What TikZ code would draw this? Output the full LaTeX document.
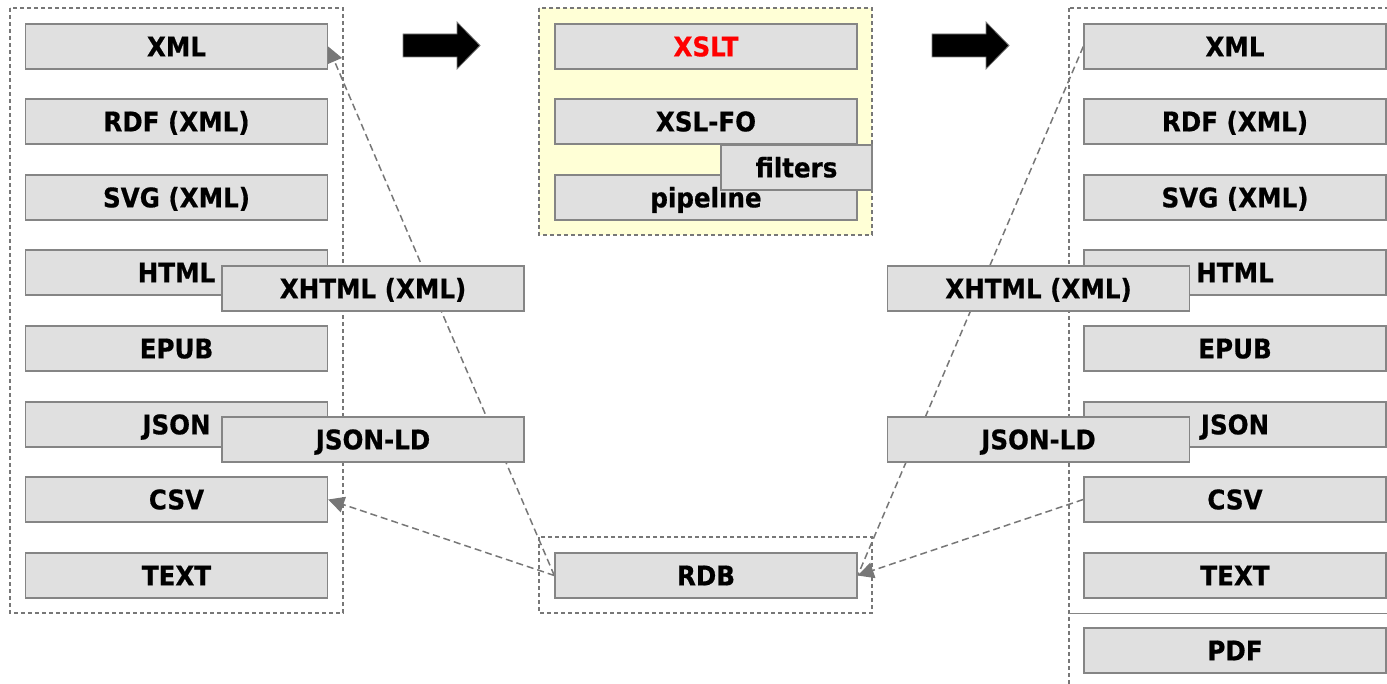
\documentclass[tikz,border=0pt]{standalone}
\usepackage{fontspec}
\newfontfamily\lblfont[FakeStretch=0.91, BoldFeatures={FakeBold=0.6}]{DejaVu Sans}
\usetikzlibrary{arrows.meta}
\definecolor{boxfill}{HTML}{E0E0E0}
\definecolor{boxline}{HTML}{858585}
\definecolor{connline}{HTML}{777777}
\definecolor{groupfill}{HTML}{FFFFD6}
\definecolor{xsltred}{HTML}{FF0000}
\pgfdeclarelayer{groups}
\pgfdeclarelayer{links}
\pgfsetlayers{groups,links,main}
\tikzset{
  fmt/.style={draw=boxline, line width=1.4pt, fill=boxfill, inner sep=0pt,
    minimum width=302pt, minimum height=45pt,
    text height=19.7pt, text depth=0pt,
    font=\lblfont\bfseries\fontsize{27}{30}\selectfont},
  smallfmt/.style={fmt, minimum width=151pt},
  group/.style={draw=connline, line width=1.1pt, dash pattern=on 4pt off 3pt},
  conn/.style={draw=connline, line width=1.5pt, dash pattern=on 7pt off 4pt},
  tip/.style={-{Triangle[length=16pt,width=16pt]}},
  bigarrow/.style={fill=black, draw=gray, line width=0.8pt}
}
\begin{document}
\begin{tikzpicture}[x=1pt,y=-1pt]
\useasboundingbox (0,0) rectangle (1387,684);
\clip (0,0) rectangle (1387,684);

% source formats
\node[fmt] (lxml)  at (176.5,46.5)  {XML};
\node[fmt] (lrdf)  at (176.5,121.5) {RDF (XML)};
\node[fmt] (lsvg)  at (176.5,197.5) {SVG (XML)};
\node[fmt] (lhtml) at (176.5,272.5) {HTML};
\node[fmt] (lepub) at (176.5,348.5) {EPUB};
\node[fmt] (ljson) at (176.5,424.5) {JSON};
\node[fmt] (lcsv)  at (176.5,499.5) {CSV};
\node[fmt] (ltext) at (176.5,575.5) {TEXT};
\node[fmt] (lxhtml) at (373,288.5) {XHTML (XML)};
\node[fmt] (ljsonld) at (373,439.5) {JSON-LD};

% transformation tools
\node[fmt, text=xsltred] (xslt) at (706,46.5) {XSLT};
\node[fmt] (xslfo) at (706,121.5) {XSL-FO};
\node[fmt] (pipe)  at (706,197.5) {pipeline};
\node[smallfmt] (filters) at (796.5,167.5) {filters};

% database
\node[fmt] (rdb) at (706,575.5) {RDB};

% target formats
\node[fmt] (rxml)  at (1235,46.5)  {XML};
\node[fmt] (rrdf)  at (1235,121.5) {RDF (XML)};
\node[fmt] (rsvg)  at (1235,197.5) {SVG (XML)};
\node[fmt] (rhtml) at (1235,272.5) {HTML};
\node[fmt] (repub) at (1235,348.5) {EPUB};
\node[fmt] (rjson) at (1235,424.5) {JSON};
\node[fmt] (rcsv)  at (1235,499.5) {CSV};
\node[fmt] (rtext) at (1235,575.5) {TEXT};
\node[fmt] (rpdf)  at (1235,650.5) {PDF};
\node[fmt] (rxhtml) at (1038.5,288.5) {XHTML (XML)};
\node[fmt] (rjsonld) at (1038.5,439.5) {JSON-LD};

% group outlines
\begin{pgfonlayer}{groups}
  \draw[group] (10,8) rectangle (343,613);
  \draw[group, fill=groupfill] (539,8) rectangle (872,235);
  \draw[group] (539,537) rectangle (872,613);
  \draw[group] (1069,8) rectangle (1420,720);
  \draw[draw=boxline, line width=1pt] (1069,613) -- (1400,613);
\end{pgfonlayer}

% links through the database
\begin{pgfonlayer}{links}
  \draw[conn, tip] (rdb.west) -- (lxml.east);
  \draw[conn, tip] (rdb.west) -- (lcsv.east);
  \draw[conn] (rxml.west) -- (rdb.east);
  \draw[conn, tip] (rcsv.west) -- (rdb.east);
\end{pgfonlayer}

% flow arrows
\draw[bigarrow] (403,34) -- (457,34) -- (457,22) -- (480,45.5) -- (457,69)
  -- (457,57) -- (403,57) -- cycle;
\draw[bigarrow] (932,34) -- (986,34) -- (986,22) -- (1009,45.5) -- (986,69)
  -- (986,57) -- (932,57) -- cycle;
\end{tikzpicture}
\end{document}
